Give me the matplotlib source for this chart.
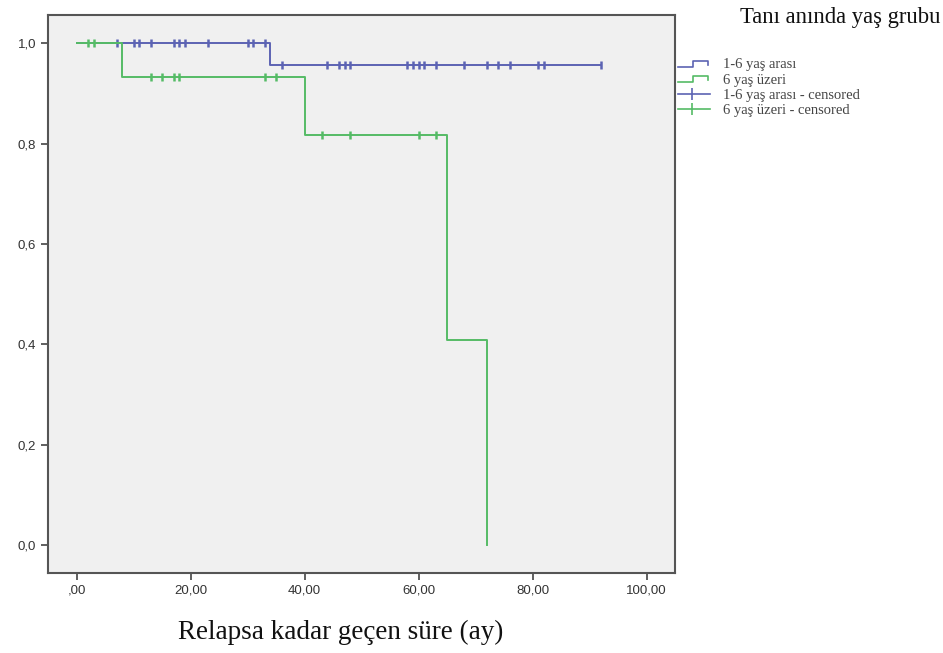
import matplotlib
matplotlib.use("Agg")
import matplotlib.pyplot as plt
import numpy as np
from matplotlib.lines import Line2D
from matplotlib.legend_handler import HandlerBase

# ---- data ----
# group 1: "1-6 yaş arası"
g1_step_times = [0, 34, 92]
g1_step_surv = [1.0, 0.957, 0.957]
g1_censor = [7, 10, 11, 13, 17, 18, 19, 23, 30, 31, 33,
             36, 44, 46, 47, 48, 58, 59, 60, 61, 63, 68, 72, 74, 76, 81, 82, 92]

# group 2: "6 yaş üzeri"
g2_step_times = [0, 8, 40, 65, 72, 72]
g2_step_surv = [1.0, 0.933, 0.817, 0.408, 0.0, 0.0]
g2_censor = [2, 3, 13, 15, 17, 18, 33, 35, 43, 48, 60, 63]

x_ticks = [0, 20, 40, 60, 80, 100]
x_ticklabels = [",00", "20,00", "40,00", "60,00", "80,00", "100,00"]
y_ticks = [0.0, 0.2, 0.4, 0.6, 0.8, 1.0]
y_ticklabels = ["0,0", "0,2", "0,4", "0,6", "0,8", "1,0"]

labels = ["1-6 yaş arası", "6 yaş üzeri",
          "1-6 yaş arası - censored", "6 yaş üzeri - censored"]
legend_title = "Tanı anında yaş grubu"
xlabel = "Relapsa kadar geçen süre (ay)"

c_blue = "#5c63b3"
c_green = "#55bb66"


def surv_at(t, times, surv):
    idx = np.searchsorted(times, t, side="right") - 1
    return np.asarray(surv)[idx]


fig = plt.figure(figsize=(9.43, 6.53), dpi=100)
ax = fig.add_axes([0.051, 0.1225, 0.665, 0.8545])
ax.set_facecolor("#f0f0f0")

for times, surv, cens, col in [
    (g1_step_times, g1_step_surv, g1_censor, c_blue),
    (g2_step_times, g2_step_surv, g2_censor, c_green),
]:
    ax.step(times, surv, where="post", color=col, lw=1.4)
    cy = [surv_at(t, times, surv) for t in cens]
    ax.plot(cens, cy, ls="none", marker="|", ms=6, mew=1.8, color=col)

ax.set_xlim(-5, 105)
ax.set_ylim(-0.055, 1.056)
ax.set_xticks(x_ticks)
ax.set_xticklabels(x_ticklabels, fontsize=9.5, family="Liberation Sans", color="#333333")
ax.set_yticks(y_ticks)
ax.set_yticklabels(y_ticklabels, fontsize=9.5, family="Liberation Sans", color="#333333")
ax.tick_params(direction="out", length=5, width=1.2, color="#444444")
for s in ax.spines.values():
    s.set_color("#555555")
    s.set_linewidth(1.5)

fig.text(341 / 943, 1 - 632 / 653, xlabel, family="Liberation Serif",
         fontsize=19.5, ha="center", va="center", color="#111111")


class StepHandler(HandlerBase):
    def __init__(self, color):
        super().__init__()
        self.color = color

    def create_artists(self, legend, orig_handle, xdescent, ydescent,
                       width, height, fontsize, trans):
        x0 = -xdescent
        xs = [x0, x0 + width * 0.48, x0 + width * 0.48, x0 + width * 0.95, x0 + width * 0.95]
        ys = [height * 0.15, height * 0.15, height * 0.75, height * 0.75, height * 0.35]
        ln = Line2D(xs, ys, color=self.color, lw=1.2, transform=trans)
        return [ln]


class CensHandler(HandlerBase):
    def __init__(self, color):
        super().__init__()
        self.color = color

    def create_artists(self, legend, orig_handle, xdescent, ydescent,
                       width, height, fontsize, trans):
        x0 = -xdescent
        ln = Line2D([x0, x0 + width], [height / 2, height / 2],
                    color=self.color, lw=1.2, transform=trans)
        mk = Line2D([x0 + width * 0.45], [height / 2], color=self.color,
                    marker="|", ms=9, mew=1.2, ls="none", transform=trans)
        return [ln, mk]


h1 = Line2D([], [], color=c_blue)
h2 = Line2D([], [], color=c_green)
h3 = Line2D([], [], color=c_blue)
h4 = Line2D([], [], color=c_green)

leg = fig.legend([h1, h2, h3, h4], labels,
                 handler_map={h1: StepHandler(c_blue), h2: StepHandler(c_green),
                              h3: CensHandler(c_blue), h4: CensHandler(c_green)},
                 loc="upper left", bbox_to_anchor=(678 / 943, 1 - 58 / 653),
                 frameon=False, borderpad=0, borderaxespad=0,
                 prop={"family": "Liberation Serif", "size": 10.5},
                 handlelength=2.2, handletextpad=0.9, labelspacing=0.15)
for t in leg.get_texts():
    t.set_color("#444444")

fig.text(740 / 943, 1 - 17 / 653, legend_title, family="Liberation Serif",
         fontsize=16.3, va="center", ha="left", color="#111111")

fig.savefig("out.png", dpi=100, facecolor="white")
